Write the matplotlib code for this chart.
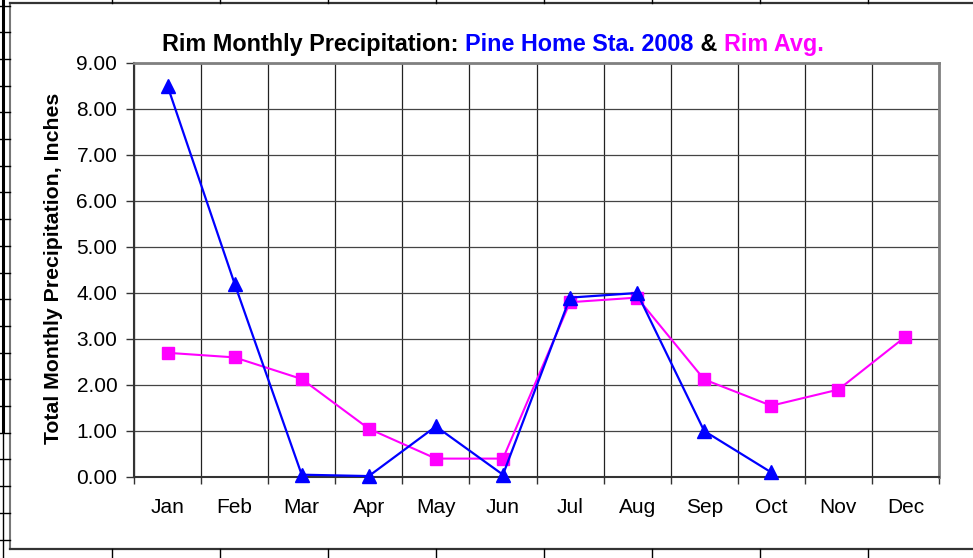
import matplotlib
matplotlib.use("Agg")
import matplotlib.pyplot as plt
import numpy as np

months = ["Jan", "Feb", "Mar", "Apr", "May", "Jun", "Jul", "Aug", "Sep", "Oct", "Nov", "Dec"]
pine_2008 = [8.50, 4.20, 0.05, 0.02, 1.10, 0.05, 3.90, 4.00, 1.00, 0.10]
rim_avg = [2.70, 2.60, 2.13, 1.05, 0.40, 0.40, 3.80, 3.90, 2.12, 1.55, 1.90, 3.05]
yticks = [0, 1, 2, 3, 4, 5, 6, 7, 8, 9]

plt.rcParams['font.family'] = ['Liberation Sans', 'DejaVu Sans']

W, H = 973, 558
fig = plt.figure(figsize=(W / 100, H / 100), dpi=100)
fig.patch.set_facecolor("white")

# overlay for chart frame & sheet cell borders (pixel coords)
ov = fig.add_axes([0, 0, 1, 1])
ov.set_xlim(0, W)
ov.set_ylim(H, 0)
ov.axis("off")
ov.patch.set_visible(False)
ov.plot([10, 10], [3, 549], color="#777777", lw=1.5)
ov.plot([10, W + 5], [3, 3], color="#333333", lw=1.6)
ov.plot([10, W + 5], [549, 549], color="#333333", lw=1.6)
ov.plot([2.5, 2.5], [0, 431], color="black", lw=2.2)
ov.plot([2.5, 2.5], [431, H], color="black", lw=1)
for yy in np.arange(5.5, H, 26.7):
    ov.plot([0, 10], [yy, yy], color="black", lw=1)
for xx in np.arange(112, W, 108):
    ov.plot([xx, xx], [549, H], color="black", lw=1)
    ov.plot([xx, xx], [0, 3], color="black", lw=1)

left, right, top, bottom = 134, 939, 63, 477
ax = fig.add_axes([left / W, 1 - bottom / H, (right - left) / W, (bottom - top) / H])
x = np.arange(len(months))
ax.set_xlim(-0.5, len(months) - 0.5)
ax.set_ylim(0, 9)

ax.plot(x[:len(pine_2008)], pine_2008, color="#0000FF", lw=1.6, marker="^", ms=9.5,
        markeredgecolor="#0000FF", markerfacecolor="#0000FF", zorder=4, clip_on=False)
ax.plot(x, rim_avg, color="#FF00FF", lw=1.5, marker="s", ms=8.5,
        markeredgecolor="#FF00FF", markerfacecolor="#FF00FF", zorder=3, clip_on=False)

ax.set_yticks(yticks)
ax.set_yticklabels([f"{v:.2f}" for v in yticks], fontsize=15)
ax.set_xticks(x)
ax.set_xticklabels(months, fontsize=15)
ax.set_xticks(np.arange(-0.5, len(months)), minor=True)
ax.tick_params(axis="x", which="major", length=0, pad=15)
ax.tick_params(axis="x", which="minor", length=5, width=1, direction="out", color="#333333")
ax.tick_params(axis="y", which="major", length=6, width=1, direction="out", color="#333333", pad=6)

ax.grid(True, which="minor", axis="x", color="#222222", lw=0.9)
ax.grid(True, which="major", axis="y", color="#444444", lw=0.9)
ax.set_axisbelow(True)
for s in ["left", "bottom"]:
    ax.spines[s].set_color("#333333")
    ax.spines[s].set_linewidth(1.5)
for s in ["top", "right"]:
    ax.spines[s].set_color("#808080")
    ax.spines[s].set_linewidth(2)

fig.text(54 / W, 1 - 268 / H, "Total Monthly Precipitation, Inches", rotation=90,
         ha="center", va="center", fontsize=15.3, fontweight="bold")

# multi-coloured title
parts = [("Rim Monthly Precipitation: ", "black"), ("Pine Home Sta. 2008", "#0000FF"),
         (" & ", "black"), ("Rim Avg.", "#FF00FF")]
fig.canvas.draw()
r = fig.canvas.get_renderer()
texts = []
for s, c in parts:
    t = fig.text(0, 1 - 51 / H, s, color=c, fontsize=16.8, fontweight="bold", ha="left", va="baseline")
    texts.append(t)
widths = [t.get_window_extent(r).width for t in texts]
total = sum(widths)
cx = 493
xpos = cx - total / 2
for t, w in zip(texts, widths):
    t.set_x(xpos / W)
    xpos += w

fig.savefig("out.png", dpi=100)
